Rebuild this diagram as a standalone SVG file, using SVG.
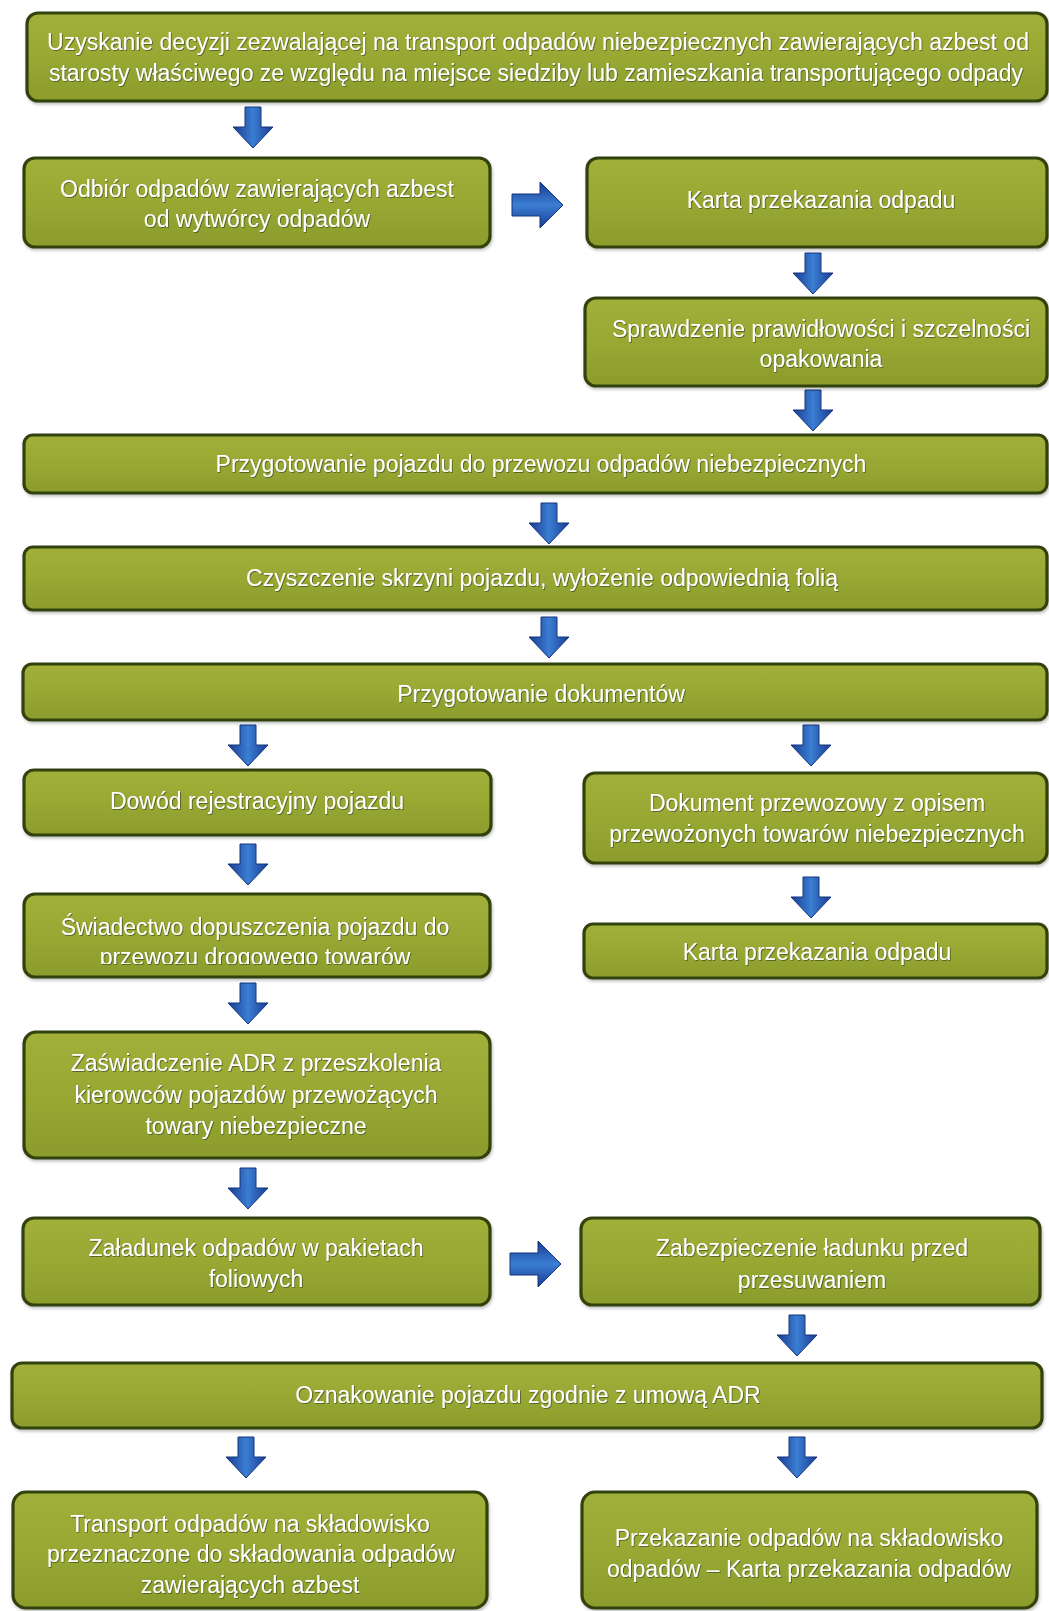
<svg xmlns="http://www.w3.org/2000/svg" width="1049" height="1611" viewBox="0 0 1049 1611">
<style>
.box{fill:url(#boxFill);stroke:#33420e;stroke-width:3.2}
.t{font-family:"Liberation Sans",Arial,sans-serif;font-size:23px;fill:#ffffff;text-anchor:middle}
.ad{fill:url(#arrV);stroke:#15347f;stroke-width:1}
.ar{fill:url(#arrH);stroke:#15347f;stroke-width:1}
</style>
<defs>
<linearGradient id="boxFill" x1="0" y1="0" x2="0" y2="1">
<stop offset="0" stop-color="#a1b03a"/>
<stop offset="0.5" stop-color="#98a833"/>
<stop offset="1" stop-color="#8c9c2c"/>
</linearGradient>
<linearGradient id="arrV" x1="0" y1="0" x2="1" y2="0">
<stop offset="0" stop-color="#1a3c92"/>
<stop offset="0.5" stop-color="#3a7ed2"/>
<stop offset="1" stop-color="#1a3c92"/>
</linearGradient>
<linearGradient id="arrH" x1="0" y1="0" x2="0" y2="1">
<stop offset="0" stop-color="#1a3c92"/>
<stop offset="0.5" stop-color="#3a7ed2"/>
<stop offset="1" stop-color="#1a3c92"/>
</linearGradient>
<filter id="sh" x="-5%" y="-10%" width="110%" height="130%">
<feDropShadow dx="1" dy="2" stdDeviation="1.5" flood-color="#000" flood-opacity="0.25"/>
</filter>
<filter id="tsh" x="-5%" y="-30%" width="110%" height="160%">
<feDropShadow dx="0.8" dy="0.8" stdDeviation="0.6" flood-color="#2a3508" flood-opacity="0.7"/>
</filter>
<path id="down" class="ad" d="M-8,0 H8 V20 H20 L0,41 L-20,20 H-8 Z"/>
<path id="right" class="ar" d="M0,-11 H28 V-23 L51,0 L28,23 V11 H0 Z"/>
<clipPath id="cutSw"><rect x="0" y="890" width="1049" height="74"/></clipPath>
</defs>
<rect width="1049" height="1611" fill="#ffffff"/>

<g id="connectors">
<use href="#down" x="253" y="107"/>
<use href="#right" x="512" y="205"/>
<use href="#down" x="813" y="253"/>
<use href="#down" x="813" y="390"/>
<use href="#down" x="549" y="503"/>
<use href="#down" x="549" y="617"/>
<use href="#down" x="248" y="725"/>
<use href="#down" x="811" y="725"/>
<use href="#down" x="248" y="844"/>
<use href="#down" x="811" y="877"/>
<use href="#down" x="248" y="983"/>
<use href="#down" x="248" y="1168"/>
<use href="#right" x="510" y="1264"/>
<use href="#down" x="797" y="1315"/>
<use href="#down" x="246" y="1437"/>
<use href="#down" x="797" y="1437"/>
</g>

<g id="n1" filter="url(#sh)">
<rect class="box" x="27" y="13" width="1020" height="88" rx="11"/>
<g filter="url(#tsh)"><text class="t" x="538" y="50">Uzyskanie decyzji zezwalającej na transport odpadów niebezpiecznych zawierających azbest od</text>
<text class="t" x="536" y="81">starosty właściwego ze względu na miejsce siedziby lub zamieszkania transportującego odpady</text></g>
</g>
<g id="n2" filter="url(#sh)">
<rect class="box" x="24" y="158" width="466" height="89" rx="11"/>
<g filter="url(#tsh)"><text class="t" x="257" y="197">Odbiór odpadów zawierających azbest</text>
<text class="t" x="257" y="227">od wytwórcy odpadów</text></g>
</g>
<g id="n3" filter="url(#sh)">
<rect class="box" x="587" y="158" width="460" height="89" rx="11"/>
<g filter="url(#tsh)"><text class="t" x="821" y="208">Karta przekazania odpadu</text></g>
</g>
<g id="n4" filter="url(#sh)">
<rect class="box" x="585" y="298" width="462" height="88" rx="11"/>
<g filter="url(#tsh)"><text class="t" x="821" y="337">Sprawdzenie prawidłowości i szczelności</text>
<text class="t" x="821" y="367">opakowania</text></g>
</g>
<g id="n5" filter="url(#sh)">
<rect class="box" x="24" y="435" width="1023" height="58" rx="9"/>
<g filter="url(#tsh)"><text class="t" x="541" y="472">Przygotowanie pojazdu do przewozu odpadów niebezpiecznych</text></g>
</g>
<g id="n6" filter="url(#sh)">
<rect class="box" x="24" y="547" width="1023" height="63" rx="9"/>
<g filter="url(#tsh)"><text class="t" x="542" y="586">Czyszczenie skrzyni pojazdu, wyłożenie odpowiednią folią</text></g>
</g>
<g id="n7" filter="url(#sh)">
<rect class="box" x="23" y="664" width="1024" height="56" rx="9"/>
<g filter="url(#tsh)"><text class="t" x="541" y="702">Przygotowanie dokumentów</text></g>
</g>
<g id="n8" filter="url(#sh)">
<rect class="box" x="24" y="770" width="467" height="65" rx="10"/>
<g filter="url(#tsh)"><text class="t" x="257" y="809">Dowód rejestracyjny pojazdu</text></g>
</g>
<g id="n9" filter="url(#sh)">
<rect class="box" x="584" y="773" width="463" height="90" rx="11"/>
<g filter="url(#tsh)"><text class="t" x="817" y="811">Dokument przewozowy z opisem</text>
<text class="t" x="817" y="842">przewożonych towarów niebezpiecznych</text></g>
</g>
<g id="n10" filter="url(#sh)">
<rect class="box" x="24" y="894" width="466" height="83" rx="11"/>
<g filter="url(#tsh)"><text class="t" x="255" y="935">Świadectwo dopuszczenia pojazdu do</text>
<text class="t" x="255" y="965" clip-path="url(#cutSw)">przewozu drogowego towarów</text></g>
</g>
<g id="n11" filter="url(#sh)">
<rect class="box" x="584" y="924" width="463" height="54" rx="9"/>
<g filter="url(#tsh)"><text class="t" x="817" y="960">Karta przekazania odpadu</text></g>
</g>
<g id="n12" filter="url(#sh)">
<rect class="box" x="24" y="1032" width="466" height="126" rx="12"/>
<g filter="url(#tsh)"><text class="t" x="256" y="1071">Zaświadczenie ADR z przeszkolenia</text>
<text class="t" x="256" y="1103">kierowców pojazdów przewożących</text>
<text class="t" x="256" y="1134">towary niebezpieczne</text></g>
</g>
<g id="n13" filter="url(#sh)">
<rect class="box" x="23" y="1218" width="467" height="87" rx="11"/>
<g filter="url(#tsh)"><text class="t" x="256" y="1256">Załadunek odpadów w pakietach</text>
<text class="t" x="256" y="1287">foliowych</text></g>
</g>
<g id="n14" filter="url(#sh)">
<rect class="box" x="581" y="1218" width="459" height="87" rx="11"/>
<g filter="url(#tsh)"><text class="t" x="812" y="1256">Zabezpieczenie ładunku przed</text>
<text class="t" x="812" y="1288">przesuwaniem</text></g>
</g>
<g id="n15" filter="url(#sh)">
<rect class="box" x="12" y="1363" width="1030" height="65" rx="10"/>
<g filter="url(#tsh)"><text class="t" x="528" y="1403">Oznakowanie pojazdu zgodnie z umową ADR</text></g>
</g>
<g id="n16" filter="url(#sh)">
<rect class="box" x="13" y="1492" width="474" height="116" rx="13"/>
<g filter="url(#tsh)"><text class="t" x="250" y="1532">Transport odpadów na składowisko</text>
<text class="t" x="251" y="1562">przeznaczone do składowania odpadów</text>
<text class="t" x="250" y="1593">zawierających azbest</text></g>
</g>
<g id="n17" filter="url(#sh)">
<rect class="box" x="582" y="1492" width="455" height="116" rx="13"/>
<g filter="url(#tsh)"><text class="t" x="809" y="1546">Przekazanie odpadów na składowisko</text>
<text class="t" x="809" y="1577">odpadów – Karta przekazania odpadów</text></g>
</g>
</svg>
